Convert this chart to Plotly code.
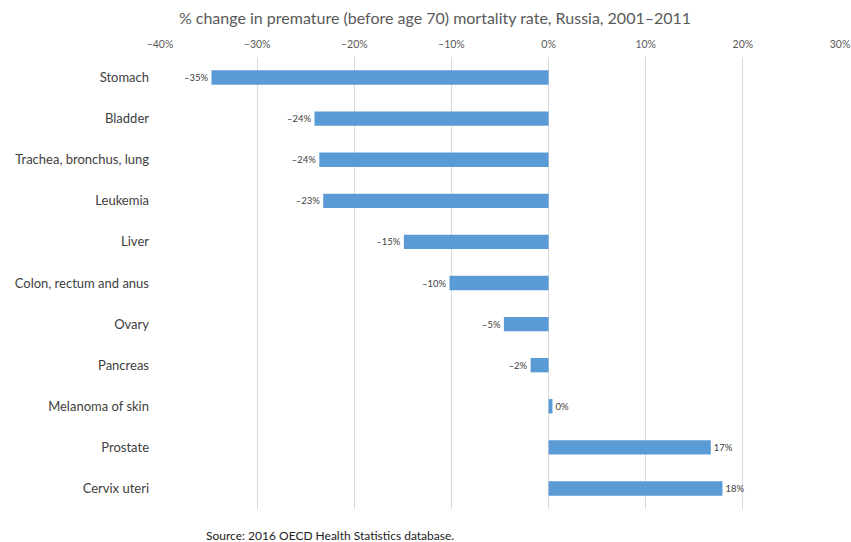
import plotly.graph_objects as go

# Cancer sites and % change in premature mortality rate, Russia 2001–2011
sites = [
    "Stomach", "Bladder", "Trachea, bronchus, lung", "Leukemia", "Liver",
    "Colon, rectum and anus", "Ovary", "Pancreas", "Melanoma of skin",
    "Prostate", "Cervix uteri",
]
pct_change = [-34.7, -24.1, -23.6, -23.2, -14.9, -10.2, -4.6, -1.85, 0.4, 16.7, 17.9]

tick_vals = [-40, -30, -20, -10, 0, 10, 20, 30]
tick_text = ["–40%", "–30%", "–20%", "–10%", "0%", "10%", "20%", "30%"]


def fmt(v):
    r = round(v)
    return ("–" if r < 0 else "") + f"{abs(r)}%"


labels = [fmt(v) for v in pct_change]

FONT = "Lato, 'Open Sans', sans-serif"

fig = go.Figure(
    go.Bar(
        x=pct_change,
        y=sites,
        orientation="h",
        marker=dict(color="#5b9bd5", line=dict(width=0)),
        text=labels,
        textposition="outside",
        textfont=dict(size=9.5, color="#404040", family=FONT),
        cliponaxis=False,
        hoverinfo="skip",
    )
)

fig.update_layout(
    width=851,
    height=542,
    margin=dict(l=160, r=11, t=57, b=33, autoexpand=False),
    paper_bgcolor="white",
    plot_bgcolor="white",
    bargap=0.65,
    showlegend=False,
    font=dict(family=FONT, color="#404040"),
    title=dict(
        text="% change in premature (before age 70) mortality rate, Russia, 2001–2011",
        x=(435 - 0) / 851,
        xanchor="center",
        y=1 - 18 / 542,
        yanchor="middle",
        font=dict(size=16, color="#595959", family=FONT),
    ),
    xaxis=dict(
        side="top",
        range=[-40, 30],
        tickvals=tick_vals,
        ticktext=tick_text,
        tickfont=dict(size=10.5, color="#595959", family=FONT),
        showgrid=True,
        gridcolor="#d9d9d9",
        gridwidth=1,
        zeroline=True,
        zerolinecolor="#d9d9d9",
        zerolinewidth=1,
        showline=False,
        ticks="",
        ticklabelstandoff=6,
        automargin=False,
        fixedrange=True,
    ),
    yaxis=dict(
        autorange="reversed",
        tickfont=dict(size=13, color="#404040", family=FONT),
        showgrid=False,
        showline=False,
        ticks="",
        ticklabelstandoff=10,
        automargin=False,
        fixedrange=True,
    ),
    annotations=[
        dict(
            text="Source: 2016 OECD Health Statistics database.",
            xref="paper",
            yref="paper",
            x=(204 - 160) / (851 - 171),
            y=-(535 - 509) / (542 - 90),
            xanchor="left",
            yanchor="middle",
            showarrow=False,
            font=dict(size=12, color="#222222", family=FONT),
        )
    ],
)

fig.write_html("out.html")
